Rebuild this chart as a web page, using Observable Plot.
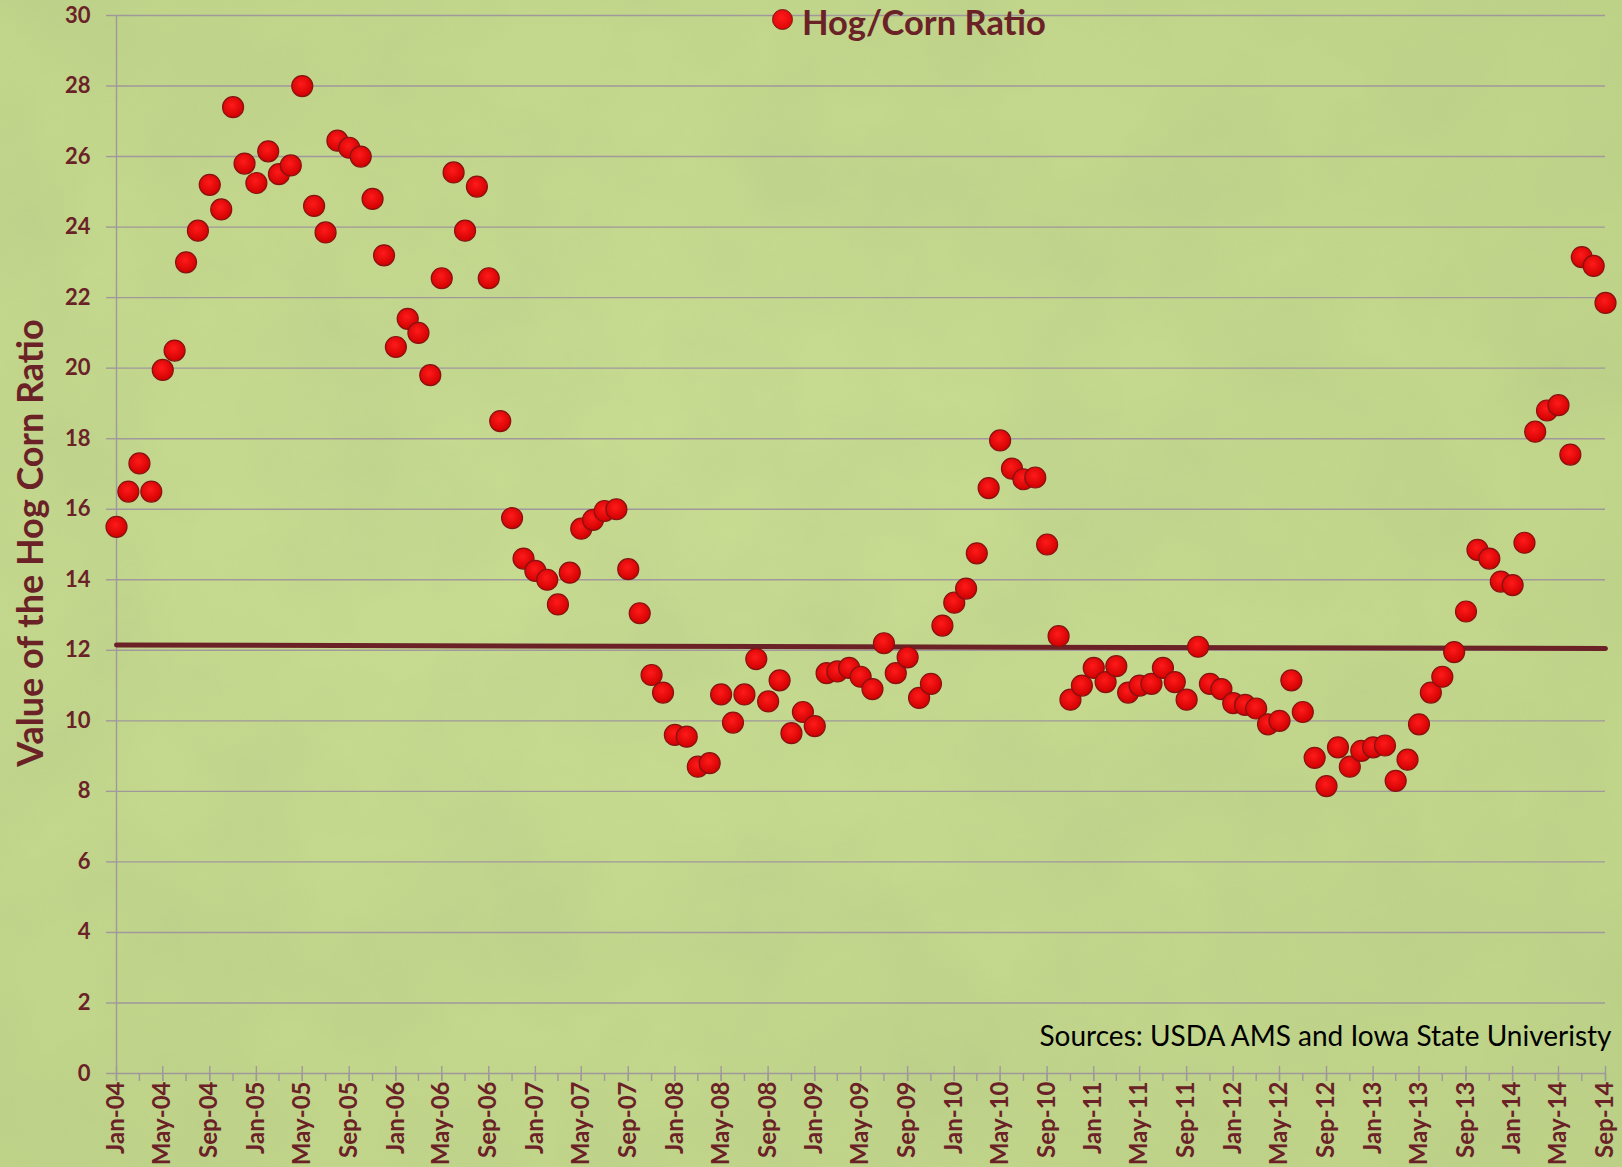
<!DOCTYPE html>
<html>
<head>
<meta charset="utf-8">
<script src="https://cdn.jsdelivr.net/npm/d3@7"></script>
<script src="https://cdn.jsdelivr.net/npm/@observablehq/plot@0.6"></script>
<style>
  html, body { margin: 0; padding: 0; background: #c4d98d; }
  #wrap { position: relative; width: 1622px; height: 1167px; overflow: hidden;
    background: radial-gradient(ellipse at 40% 45%, #c8dd92 0%, #c2d78b 60%, #bdd286 100%); }
  #texture { position: absolute; left: 0; top: 0; width: 1622px; height: 1167px; opacity: 0.28;
    background-image: url("data:image/svg+xml,%3Csvg xmlns='http://www.w3.org/2000/svg' width='1622' height='1167'%3E%3Cfilter id='n'%3E%3CfeTurbulence type='fractalNoise' baseFrequency='0.007' numOctaves='5' seed='7'/%3E%3CfeColorMatrix values='0 0 0 0 0.45 0 0 0 0 0.55 0 0 0 0 0.25 0 0 0 2 -0.6'/%3E%3C/filter%3E%3Crect width='100%25' height='100%25' filter='url(%23n)'/%3E%3C/svg%3E"); }
  #legend { position: absolute; left: 772px; top: 0px; height: 42px; display: flex; align-items: center;
    font-family: Lato, sans-serif; font-weight: bold; font-size: 34.5px; color: #6a2227; white-space: nowrap; }
  #legend .sw { width: 21px; height: 21px; border-radius: 50%; margin-right: 9px; margin-top: -4px;
    background: radial-gradient(circle at 45% 40%, #ff1a1a 0%, #d40000 100%); border: 1px solid #7a1010; box-sizing: border-box; }
  #ylabel { position: absolute; left: 29px; top: 543px; transform: translate(-50%, -50%) rotate(-90deg);
    font-family: Lato, sans-serif; font-weight: bold; font-size: 36px; color: #6a2227; white-space: nowrap; }
  #chart { position: absolute; left: 0; top: 0; }
</style>
</head>
<body>
<div id="wrap">
  <div id="texture"></div>
  <div id="chart"></div>
  <div id="legend"><span class="sw"></span><span>Hog/Corn Ratio</span></div>
  <div id="ylabel">Value of the Hog Corn Ratio</div>
</div>
<script>
// Monthly hog/corn ratio, Jan-2004 .. Sep-2014
const startMonth = "2004-01";
const endMonth = "2014-09";
const hogCornRatio = [
  15.5, 16.5, 17.3, 16.5, 19.95, 20.5, 23.0, 23.9, 25.2, 24.5, 27.4, 25.8,   // 2004
  25.25, 26.15, 25.5, 25.75, 28.0, 24.6, 23.85, 26.45, 26.25, 26.0, 24.8, 23.2, // 2005
  20.6, 21.4, 21.0, 19.8, 22.55, 25.55, 23.9, 25.15, 22.55, 18.5, 15.75, 14.6, // 2006
  14.25, 14.0, 13.3, 14.2, 15.45, 15.7, 15.95, 16.0, 14.3, 13.05, 11.3, 10.8,  // 2007
  9.6, 9.55, 8.7, 8.8, 10.75, 9.95, 10.75, 11.75, 10.55, 11.15, 9.65, 10.25,   // 2008
  9.85, 11.35, 11.4, 11.5, 11.25, 10.9, 12.2, 11.35, 11.8, 10.65, 11.05, 12.7, // 2009
  13.35, 13.75, 14.75, 16.6, 17.95, 17.15, 16.85, 16.9, 15.0, 12.4, 10.6, 11.0, // 2010
  11.5, 11.1, 11.55, 10.8, 11.0, 11.05, 11.5, 11.1, 10.6, 12.1, 11.05, 10.9,   // 2011
  10.5, 10.45, 10.35, 9.9, 10.0, 11.15, 10.25, 8.95, 8.15, 9.25, 8.7, 9.15,     // 2012
  9.25, 9.3, 8.3, 8.9, 9.9, 10.8, 11.25, 11.95, 13.1, 14.85, 14.6, 13.95,      // 2013
  13.85, 15.05, 18.2, 18.8, 18.95, 17.55, 23.15, 22.9, 21.85                   // 2014
];
const referenceLine = [12.15, 12.05]; // level at first and last month
const yTicks = [0, 2, 4, 6, 8, 10, 12, 14, 16, 18, 20, 22, 24, 26, 28, 30];
const sourceNote = ["Sources: USDA AMS and Iowa State Univeristy"];

const parse = d3.utcParse("%Y-%m");
const first = parse(startMonth), last = parse(endMonth);
const months = d3.utcMonth.range(first, d3.utcMonth.offset(last, 1));
const data = months.map((d, i) => ({date: d, value: hogCornRatio[i]}));
const majorTicks = months.filter((d, i) => i % 4 === 0);
const minorTicks = months.filter((d, i) => i % 2 === 0);
const refData = [{date: first, value: referenceLine[0]}, {date: last, value: referenceLine[1]}];
const fmt = d3.utcFormat("%b-%y");

const maroon = "#6a2227";
const gridColor = "#a0989b";

const chart = Plot.plot({
  width: 1622,
  height: 1167,
  marginLeft: 116,
  marginRight: 17,
  marginTop: 15,
  marginBottom: 94,
  style: {background: "transparent", fontFamily: "Lato, sans-serif", color: maroon, overflow: "visible"},
  x: {type: "utc", domain: [first, last]},
  y: {domain: [0, 30]},
  marks: [
    Plot.gridY(yTicks, {stroke: gridColor, strokeOpacity: 1, strokeWidth: 1.4}),
    Plot.axisY(yTicks, {tickSize: 10, stroke: gridColor, strokeWidth: 1.4, tickPadding: 16,
      fontSize: 22, fontWeight: "bold", fill: maroon, label: null, tickFormat: d => String(d)}),
    Plot.ruleX([first], {stroke: gridColor, strokeWidth: 1.4}),
    // minor ticks (every 2 months)
    Plot.axisX(minorTicks, {tickSize: 8, stroke: gridColor, strokeWidth: 1.4, text: null, label: null}),
    // major ticks (every 4 months) crossing the axis line
    Plot.axisX(majorTicks, {tickSize: 15, dy: -7, stroke: gridColor, strokeWidth: 1.4, text: null, label: null}),
    // labels
    Plot.axisX(majorTicks, {tickSize: 0, tickPadding: 8, tickRotate: -90, tickFormat: fmt,
      fontSize: 24, fontWeight: "bold", fill: maroon, label: null}),
    Plot.line(refData, {x: "date", y: "value", stroke: "#6b2226", strokeWidth: 5}),
    Plot.dot(data, {x: "date", y: "value", r: 10.5, fill: "url(#dotGrad)", stroke: "#861212", strokeWidth: 1.2}),
    Plot.text(sourceNote, {frameAnchor: "bottom-right", dx: 6, dy: -36, lineAnchor: "middle", textAnchor: "end",
      fontSize: 28, fill: "#000", fontFamily: "Lato, sans-serif"})
  ]
});

const defs = d3.select(chart).insert("defs", ":first-child");
const g = defs.append("radialGradient").attr("id", "dotGrad").attr("cx", "45%").attr("cy", "40%").attr("r", "60%");
g.append("stop").attr("offset", "0%").attr("stop-color", "#ff1a1a");
g.append("stop").attr("offset", "100%").attr("stop-color", "#d00000");

document.getElementById("chart").appendChild(chart);
</script>
</body>
</html>
